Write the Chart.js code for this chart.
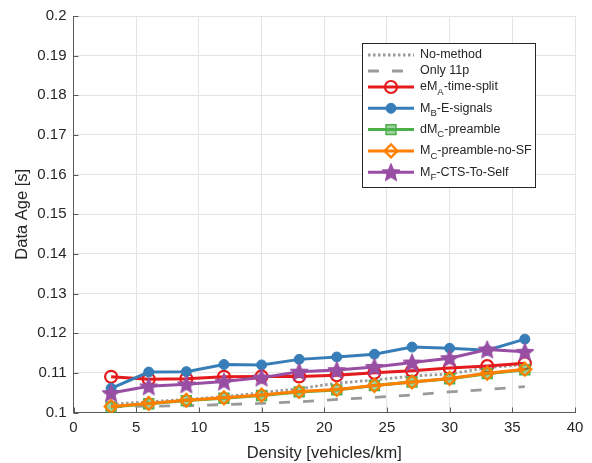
<!DOCTYPE html>
<html>
<head>
<meta charset="utf-8">
<script src="https://cdn.jsdelivr.net/npm/chart.js@4/dist/chart.umd.min.js"></script>
<style>
  html, body { margin: 0; padding: 0; background: #ffffff; }
  #wrap { width: 592px; height: 463px; }
</style>
</head>
<body>
<div id="wrap"><canvas id="c" width="592" height="463"></canvas></div>
<script>
// ---- data ----
const densities = [3, 6, 9, 12, 15, 18, 21, 24, 27, 30, 33, 36];
const xTicks = [0, 5, 10, 15, 20, 25, 30, 35, 40];
const yTicks = ['0.1', '0.11', '0.12', '0.13', '0.14', '0.15', '0.16', '0.17', '0.18', '0.19', '0.2'];

const noMethod     = [0.1021, 0.1027, 0.1033, 0.1040, 0.1050, 0.1060, 0.1074, 0.1082, 0.1092, 0.1097, 0.1113, 0.1121];
const only11p      = [0.1014, 0.1016, 0.1017, 0.1020, 0.1023, 0.1027, 0.1033, 0.1038, 0.1044, 0.1052, 0.1058, 0.1065];
const timeSplit    = [0.1090, 0.1084, 0.1085, 0.1090, 0.1091, 0.1091, 0.1094, 0.1100, 0.1105, 0.1112, 0.1117, 0.1124];
const eSignals     = [0.1061, 0.1102, 0.1103, 0.1121, 0.1120, 0.1134, 0.1140, 0.1147, 0.1165, 0.1162, 0.1157, 0.1185];
const preamble     = [0.1014, 0.1022, 0.1030, 0.1036, 0.1043, 0.1052, 0.1057, 0.1068, 0.1077, 0.1085, 0.1098, 0.1108];
const preambleNoSF = [0.1015, 0.1023, 0.1031, 0.1037, 0.1044, 0.1053, 0.1058, 0.1068, 0.1077, 0.1086, 0.1099, 0.1109];
const ctsToSelf    = [0.1049, 0.1066, 0.1071, 0.1078, 0.1088, 0.1103, 0.1107, 0.1115, 0.1126, 0.1137, 0.1159, 0.1153];

// legend texts, split into normal / subscript runs
const legendLabels = [
  [['No-method']],
  [['Only 11p']],
  [['eM'], ['A', 'sub'], ['-time-split']],
  [['M'], ['B', 'sub'], ['-E-signals']],
  [['dM'], ['C', 'sub'], ['-preamble']],
  [['M'], ['C', 'sub'], ['-preamble-no-SF']],
  [['M'], ['F', 'sub'], ['-CTS-To-Self']]
];

const FONT = "'Liberation Sans', Arial, Helvetica, sans-serif";
const TEXT = '#262626';
const AXIS = '#5a5a5a';

// filled pentagram used as a point style
function starImage(color, R) {
  const s = Math.ceil(2 * R + 3);
  const c = document.createElement('canvas');
  c.width = s; c.height = s;
  const g = c.getContext('2d');
  const cx = s / 2, cy = s / 2 + 0.8;
  g.beginPath();
  for (let k = 0; k < 10; k++) {
    const r = (k % 2) ? R * 0.45 : R;
    const a = -Math.PI / 2 + k * Math.PI / 5;
    const px = cx + r * Math.cos(a), py = cy + r * Math.sin(a);
    if (k === 0) g.moveTo(px, py); else g.lineTo(px, py);
  }
  g.closePath();
  g.fillStyle = color; g.fill();
  g.strokeStyle = color; g.lineWidth = 1; g.stroke();
  return c;
}
const star = starImage('#984EA3', 9.5);

const toPoints = ys => densities.map((x, i) => ({ x, y: ys[i] }));

const series = [
  { data: noMethod,     color: '#9a9a9a', dash: [2.5, 2.5], width: 2.8, style: false },
  { data: only11p,      color: '#9a9a9a', dash: [11, 13],  width: 2.8, style: false },
  { data: timeSplit,    color: '#E41A1C', dash: [], width: 3, style: 'circle',  r: 6,   fill: 'rgba(255,255,255,0)', bw: 2.2 },
  { data: eSignals,     color: '#377EB8', dash: [], width: 3, style: 'circle',  r: 5,   fill: '#377EB8', bw: 1 },
  { data: preamble,     color: '#4DAF4A', dash: [], width: 3, style: 'rect',    r: 7,   fill: 'rgba(77,175,74,0.55)', bw: 1.5 },
  { data: preambleNoSF, color: '#FF7F00', dash: [], width: 3, style: 'rectRot', r: 6.5, fill: 'rgba(255,255,255,0)', bw: 2.2 },
  { data: ctsToSelf,    color: '#984EA3', dash: [], width: 3, style: star,      r: 9.5, fill: '#984EA3', bw: 1 }
];

const datasets = series.map((s, i) => ({
  label: legendLabels[i].map(p => p[0]).join(''),
  data: toPoints(s.data),
  borderColor: s.color,
  backgroundColor: s.color,
  borderWidth: s.width,
  borderDash: s.dash,
  borderCapStyle: 'butt',
  tension: 0,
  fill: false,
  pointStyle: s.style || 'circle',
  pointRadius: s.style ? s.r : 0,
  pointHoverRadius: s.style ? s.r : 0,
  pointBackgroundColor: s.fill || s.color,
  pointBorderColor: s.color,
  pointBorderWidth: s.bw || 1,
  order: series.length - i
}));

// inward tick marks on the left and bottom axes
const inwardTicks = {
  id: 'inwardTicks',
  afterDraw(chart) {
    const { ctx, chartArea: a, scales } = chart;
    ctx.save();
    ctx.strokeStyle = AXIS;
    ctx.lineWidth = 1;
    ctx.beginPath();
    scales.x.ticks.forEach(t => {
      const px = Math.round(scales.x.getPixelForValue(t.value)) + 0.5;
      ctx.moveTo(px, a.bottom); ctx.lineTo(px, a.bottom - 5);
    });
    scales.y.ticks.forEach(t => {
      const py = Math.round(scales.y.getPixelForValue(t.value)) + 0.5;
      ctx.moveTo(a.left, py); ctx.lineTo(a.left + 5, py);
    });
    ctx.stroke();
    ctx.restore();
  }
};

function drawMarker(ctx, s, x, y) {
  if (!s.style) return;
  ctx.save();
  ctx.fillStyle = s.fill;
  ctx.strokeStyle = s.color;
  ctx.lineWidth = s.bw;
  ctx.setLineDash([]);
  if (s.style instanceof HTMLCanvasElement) {
    ctx.drawImage(s.style, x - s.style.width / 2, y - s.style.height / 2);
  } else {
    ctx.beginPath();
    if (s.style === 'circle') {
      ctx.arc(x, y, s.r, 0, Math.PI * 2);
    } else if (s.style === 'rect') {
      const h = s.r * Math.SQRT1_2;
      ctx.rect(x - h, y - h, 2 * h, 2 * h);
    } else if (s.style === 'rectRot') {
      ctx.moveTo(x, y - s.r); ctx.lineTo(x + s.r, y);
      ctx.lineTo(x, y + s.r); ctx.lineTo(x - s.r, y);
      ctx.closePath();
    }
    ctx.fill();
    ctx.stroke();
  }
  ctx.restore();
}

// boxed legend with subscripted labels
const boxLegend = {
  id: 'boxLegend',
  afterDraw(chart) {
    const ctx = chart.ctx;
    const bx = 362, by = 43, bw = 173, bh = 144;
    ctx.save();
    ctx.fillStyle = '#ffffff';
    ctx.fillRect(bx, by, bw, bh);
    ctx.strokeStyle = '#262626';
    ctx.lineWidth = 1;
    ctx.strokeRect(bx + 0.5, by + 0.5, bw, bh);

    let y = 55;
    legendLabels.forEach((parts, i) => {
      const s = series[i];
      if (i > 0) y += (i < 3) ? 16 : 21.3;
      ctx.save();
      ctx.strokeStyle = s.color;
      ctx.lineWidth = s.width;
      ctx.lineCap = 'butt';
      ctx.setLineDash(s.dash);
      ctx.beginPath();
      ctx.moveTo(368, y); ctx.lineTo(414, y);
      ctx.stroke();
      ctx.restore();
      drawMarker(ctx, s, 391, y);

      let tx = 420;
      ctx.fillStyle = TEXT;
      ctx.textBaseline = 'middle';
      ctx.textAlign = 'left';
      parts.forEach(([txt, kind]) => {
        if (kind === 'sub') {
          ctx.font = '9.5px ' + FONT;
          ctx.fillText(txt, tx, y + 5);
        } else {
          ctx.font = '12.5px ' + FONT;
          ctx.fillText(txt, tx, y);
        }
        tx += ctx.measureText(txt).width;
      });
    });
    ctx.restore();
  }
};

new Chart(document.getElementById('c'), {
  type: 'line',
  data: { datasets },
  plugins: [inwardTicks, boxLegend],
  options: {
    responsive: false,
    devicePixelRatio: 1,
    animation: false,
    layout: { padding: { top: 15.5, right: 17, bottom: 0, left: 0 } },
    plugins: { legend: { display: false }, tooltip: { enabled: false } },
    scales: {
      x: {
        type: 'linear',
        min: 0, max: 40,
        afterBuildTicks: sc => { sc.ticks = xTicks.map(v => ({ value: v })); },
        afterFit: sc => { sc.height = 50.5; },
        ticks: { color: TEXT, font: { family: FONT, size: 15 }, padding: 6, maxRotation: 0,
                 callback: v => String(v) },
        grid: { color: '#e4e4e4', lineWidth: 1, drawTicks: false },
        border: { display: true, color: AXIS, width: 1 },
        title: { display: true, text: 'Density [vehicles/km]', color: TEXT,
                 font: { family: FONT, size: 16.5 }, padding: { top: 3, bottom: 0 } }
      },
      y: {
        type: 'linear',
        min: 0.1, max: 0.2,
        afterBuildTicks: sc => { sc.ticks = yTicks.map(v => ({ value: parseFloat(v) })); },
        afterFit: sc => { sc.width = 73.5; },
        ticks: { color: TEXT, font: { family: FONT, size: 15 }, padding: 7,
                 callback: (v, i) => yTicks[i] },
        grid: { color: '#e4e4e4', lineWidth: 1, drawTicks: false },
        border: { display: true, color: AXIS, width: 1 },
        title: { display: true, text: 'Data Age [s]', color: TEXT,
                 font: { family: FONT, size: 16.5 }, padding: { top: 12.5, bottom: 0 } }
      }
    }
  }
});
</script>
</body>
</html>
